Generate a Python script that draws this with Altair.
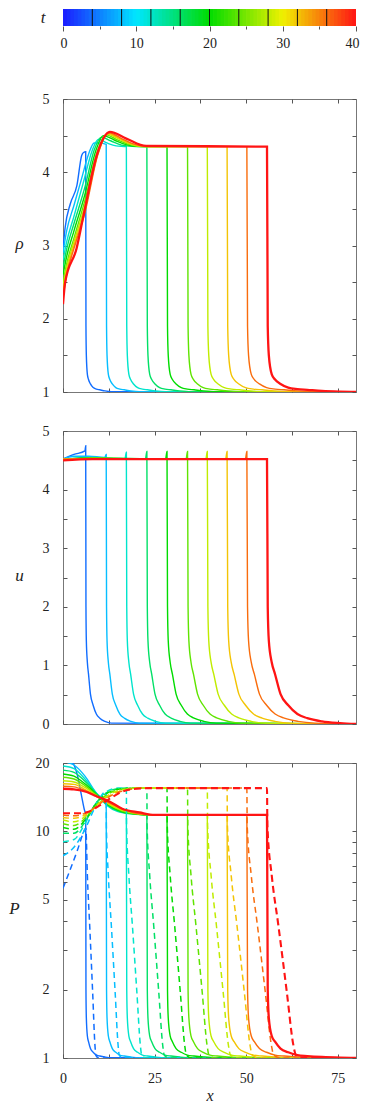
import altair as alt
import pandas as pd

# ---------------- data ----------------
T = [4, 8, 12, 16, 20, 24, 28, 32, 36, 40]
SHOCK_X = [6.2, 11.8, 17.3, 22.9, 28.4, 34.0, 39.4, 44.8, 50.2, 55.7]
TAIL_SCALE = [0.35, 0.45, 0.53, 0.6, 0.67, 0.74, 0.8, 0.87, 0.93, 1.0]

# precursor profile behind the front (offsets for the t=40 curve)
TAIL_DX = [0.2, 0.5, 1.3, 2.2, 3.7, 5.8, 8.3, 11, 15, 20]
RHO_TAIL = [1.9, 1.5, 1.24, 1.17, 1.11, 1.06, 1.04, 1.03, 1.015, 1.005]
U_TAIL = [2.0, 1.42, 1.05, 0.85, 0.51, 0.32, 0.17, 0.1, 0.045, 0.015]
P_TAIL = [2.0, 1.5, 1.25, 1.18, 1.1, 1.06, 1.03, 1.02, 1.01, 1.003]
PD_TAIL_DX = [0.1, 1.3, 3.1, 5.4, 7.2, 7.9, 10]
PD_TAIL = [10.6, 6.37, 3.85, 1.96, 1.14, 1.03, 1.0]

RHO_LEFT_X = [
    [0, 0.6, 2.0, 3.8, 5.1, 5.6],
    [0, 1, 3, 5, 7, 8.5, 10],
    [0, 1, 3, 5.5, 8, 9.7, 12, 14.5],
    [0, 1, 3, 6, 8.5, 10.5, 13, 16, 20],
    [0, 1, 3, 6, 9, 11, 14, 17, 21],
    [0, 1, 3, 6, 9.5, 11.8, 14.5, 18, 22],
    [0, 1, 3, 6, 9.5, 12, 15, 18, 22],
    [0, 1, 3, 6, 9.5, 12.3, 15.5, 18.5, 23],
    [0, 1, 3, 6, 9.5, 12.5, 16, 19, 23],
    [0, 0.6, 3.7, 5.6, 9.2, 11, 12.8, 17.3, 22.7],
]
RHO_LEFT_V = [
    [2.95, 3.25, 3.57, 3.82, 4.23, 4.27],
    [2.9, 3.2, 3.55, 3.9, 4.25, 4.4, 4.4],
    [2.8, 3.05, 3.4, 3.85, 4.3, 4.45, 4.4, 4.36],
    [2.7, 2.95, 3.3, 3.8, 4.3, 4.48, 4.43, 4.37, 4.35],
    [2.6, 2.85, 3.2, 3.7, 4.3, 4.5, 4.44, 4.38, 4.35],
    [2.5, 2.75, 3.1, 3.62, 4.3, 4.51, 4.45, 4.38, 4.35],
    [2.45, 2.7, 3.05, 3.55, 4.27, 4.52, 4.46, 4.39, 4.35],
    [2.38, 2.65, 3.0, 3.5, 4.25, 4.53, 4.46, 4.39, 4.35],
    [2.3, 2.6, 2.96, 3.45, 4.24, 4.54, 4.46, 4.39, 4.35],
    [2.2, 2.5, 2.96, 3.41, 4.23, 4.46, 4.55, 4.46, 4.36],
]
RHO_TOP = [4.28, 4.38, 4.35, 4.35, 4.35, 4.35, 4.35, 4.35, 4.35, 4.35]

U_LEFT_X = [
    [0, 3, 6.0],
    [0, 3, 7, 11.4],
    [0, 8, 16.9],
    [0, 8, 22.5],
    [0, 8, 28.0],
    [0, 8, 33.6],
    [0, 8, 39.0],
    [0, 8, 44.4],
    [0, 8, 49.8],
    [0, 8, 55.3],
]
U_LEFT_V = [
    [4.52, 4.6, 4.66],
    [4.52, 4.57, 4.57, 4.55],
    [4.52, 4.55, 4.52],
    [4.52, 4.54, 4.52],
    [4.52, 4.54, 4.52],
    [4.52, 4.53, 4.52],
    [4.52, 4.53, 4.52],
    [4.52, 4.53, 4.52],
    [4.52, 4.52, 4.52],
    [4.5, 4.52, 4.52],
]
U_TOP = [4.75, 4.6, 4.64, 4.65, 4.65, 4.65, 4.65, 4.65, 4.65, 4.52]

P_LEFT_X = [
    [0, 2.7, 4, 5, 5.8],
    [0, 3, 6, 9],
    [0, 3, 6, 9, 12, 15],
    [0, 3, 6, 9, 12, 15, 19],
    [0, 3, 6, 9, 12, 16, 20, 24],
    [0, 3, 6, 9, 12, 16, 20, 24],
    [0, 3, 6, 9, 12, 16, 20, 25],
    [0, 3, 6, 9, 12, 16, 20, 25],
    [0, 3, 6, 9, 12, 16, 20, 25],
    [0, 3, 6.5, 9, 12.8, 16, 20.9, 25],
]
P_LEFT_V = [
    [21.5, 20, 17.5, 14.5, 12.5],
    [20.3, 19.6, 17.5, 14.8],
    [19.4, 18.9, 17.0, 14.8, 13.0, 12.2],
    [18.6, 18.2, 16.6, 14.7, 13.1, 12.3, 11.9],
    [17.9, 17.5, 16.2, 14.6, 13.2, 12.2, 11.9, 11.8],
    [17.3, 17.0, 15.9, 14.5, 13.3, 12.3, 11.9, 11.8],
    [16.7, 16.5, 15.6, 14.4, 13.3, 12.4, 12.0, 11.8],
    [16.2, 16.1, 15.3, 14.3, 13.4, 12.5, 12.0, 11.8],
    [15.8, 15.7, 15.1, 14.3, 13.5, 12.6, 12.0, 11.8],
    [15.4, 15.3, 14.9, 14.3, 13.5, 12.6, 12.1, 11.8],
]
P_TOP = [11.8, 13.2, 12.0, 11.8, 11.8, 11.8, 11.8, 11.8, 11.8, 11.8]

PD_LEFT_X = [
    [0, 2, 4, 5.5],
    [0, 3, 6, 9],
    [0, 3, 6, 9, 12, 15],
    [0, 3, 6, 9, 12, 15, 18],
    [0, 3, 6, 9, 12, 16, 20],
    [0, 3, 6, 9, 12, 16, 20],
    [0, 3, 6, 9, 12, 16, 21],
    [0, 3, 6, 9, 12, 16, 21],
    [0, 3, 6, 9, 12, 16, 22],
    [0, 4.5, 7, 10, 13, 16, 20, 25],
]
PD_LEFT_V = [
    [5.6, 6.8, 8.3, 9.8],
    [7.8, 8.5, 10.2, 13.0],
    [9.0, 9.2, 10.8, 13.3, 15.0, 15.5],
    [9.8, 9.8, 11.0, 13.3, 14.8, 15.4, 15.5],
    [10.4, 10.2, 11.2, 13.2, 14.7, 15.4, 15.5],
    [10.8, 10.6, 11.4, 13.0, 14.5, 15.3, 15.5],
    [11.2, 11.0, 11.6, 12.9, 14.3, 15.2, 15.5],
    [11.5, 11.4, 11.8, 12.8, 14.1, 15.1, 15.5],
    [11.8, 11.7, 12.0, 12.8, 14.0, 15.0, 15.5],
    [12.0, 12.0, 12.2, 13.0, 14.0, 14.9, 15.4, 15.5],
]
PD_TOP = [10.3, 15.0, 15.5, 15.5, 15.5, 15.5, 15.5, 15.5, 15.5, 15.5]

CB_TICKS = [0, 10, 20, 30, 40]
CB_MINOR = [5, 15, 25, 35]
CB_STRIPES = [i * 0.5 for i in range(80)]
X_MAX = 80


def build(left_x, left_v, tops, tail_dx, tail_v, base):
    rows = []
    for i, t in enumerate(T):
        xs, s, top = SHOCK_X[i], TAIL_SCALE[i], tops[i]
        pts = [(x, v) for x, v in zip(left_x[i], left_v[i]) if x < xs]
        pts.append((xs, top))
        for dx, v in zip(tail_dx, tail_v):
            if xs + dx * s < X_MAX:
                pts.append((xs + dx * s, min(v, top)))
        pts.append((X_MAX, base))
        for k, (x, v) in enumerate(pts):
            rows.append({"t": t, "x": x, "v": v, "k": k})
    return pd.DataFrame(rows)


rho_df = build(RHO_LEFT_X, RHO_LEFT_V, RHO_TOP, TAIL_DX, RHO_TAIL, 1.0)
u_df = build(U_LEFT_X, U_LEFT_V, U_TOP, TAIL_DX, U_TAIL, 0.0)
p_df = build(P_LEFT_X, P_LEFT_V, P_TOP, TAIL_DX, P_TAIL, 1.0)
pd_df = build(PD_LEFT_X, PD_LEFT_V, PD_TOP, PD_TAIL_DX, PD_TAIL, 1.0)

# ---------------- styling ----------------
W = 293
CBH = 17
FONT = "Liberation Serif"
cscale = alt.Scale(domain=[0, 10, 20, 30, 40],
                   range=["#1c1cff", "#00e6ff", "#00dc00", "#f0f000", "#ff1414"],
                   interpolate="rgb")
xscale = alt.Scale(domain=[0, X_MAX], nice=False, zero=False)


def lines(df, yscale, width, dash=None, xaxis=None, yaxis=None):
    kw = dict(strokeWidth=width, clip=True, interpolate="monotone")
    if dash:
        kw["strokeDash"] = dash
    x = alt.X("x:Q", scale=xscale, axis=xaxis) if xaxis is not None else alt.X("x:Q", scale=xscale, axis=None)
    y = alt.Y("v:Q", scale=yscale, axis=yaxis) if yaxis is not None else alt.Y("v:Q", scale=yscale, axis=None)
    return alt.Chart(df).mark_line(**kw).encode(
        x=x, y=y,
        color=alt.Color("t:Q", scale=cscale, legend=None),
        detail="t:N",
        order="k:Q",
    )


def tick_layer(df, yscale, H, yorient, xorient, yvals, xvals):
    return alt.Chart(df).mark_point(opacity=0, size=1).encode(
        x=alt.X("x:Q", scale=xscale, axis=alt.Axis(
            orient=xorient, offset=-H, values=xvals, labels=False, title=None,
            domain=False, grid=False, ticks=True, tickSize=4)),
        y=alt.Y("v:Q", scale=yscale, axis=alt.Axis(
            orient=yorient, offset=-W, values=yvals, labels=False, title=None,
            domain=False, grid=False, ticks=True, tickSize=4)),
    )


def panel(solid, dashed, ydom, ytype, ylabels, yticks, ytitle, title_x, H, xlabels):
    yscale = alt.Scale(domain=ydom, type=ytype, nice=False, zero=False)
    xticks = [0, 12.5, 25, 37.5, 50, 62.5, 75]
    yaxis = alt.Axis(orient="left", values=ylabels, format="d", title=ytitle, titleAngle=0,
                     titleX=title_x, titleY=H / 2 - 2, titleAlign="center",
                     titleBaseline="middle", ticks=False, tickSize=0, domain=False,
                     grid=False, labelPadding=14, labelFlush=False, labelOverlap=False)
    if xlabels:
        xaxis = alt.Axis(orient="bottom", values=[0, 25, 50, 75], format="d", title="x",
                         titleY=37, titleBaseline="middle", titleFontSize=16,
                         ticks=False, tickSize=0, domain=False, grid=False,
                         labelPadding=13, labelFlush=False)
    else:
        xaxis = None
    layers = [lines(solid[solid.t < 40], yscale, 1.4, xaxis=xaxis, yaxis=yaxis)]
    if dashed is not None:
        layers.append(lines(dashed[dashed.t < 40], yscale, 1.5, dash=[6, 4]))
    layers.append(lines(solid[solid.t == 40], yscale, 2.3))
    if dashed is not None:
        layers.append(lines(dashed[dashed.t == 40], yscale, 2.1, dash=[7, 4]))
    layers.append(tick_layer(solid, yscale, H, "right", "top", yticks, xticks))
    layers.append(tick_layer(solid, yscale, H, "left", "bottom", yticks, xticks))
    return alt.layer(*layers).resolve_axis(x="independent", y="independent").properties(
        width=W, height=H)


rho = panel(rho_df, None, [1, 5], "linear", [1, 2, 3, 4, 5],
            [1 + 0.5 * i for i in range(9)], "ρ", -44, 293, False)
u = panel(u_df, None, [0, 5], "linear", [0, 1, 2, 3, 4, 5],
          [0.5 * i for i in range(11)], "u", -44, 293, False)
p = panel(p_df, pd_df, [1, 20], "log", [1, 2, 5, 10, 20],
          [1, 2, 3, 4, 5, 6, 7, 8, 9, 10, 20], "P", -49, 295, True)

# ---------------- colour bar ----------------
cb_df = pd.DataFrame({"t0": CB_STRIPES,
                      "t1": [s + 0.6 for s in CB_STRIPES],
                      "tc": [s + 0.25 for s in CB_STRIPES],
                      "y0": 0.0, "y1": 1.0})
cb_x = alt.Scale(domain=[0, 40], nice=False, zero=False)
cb_y = alt.Scale(domain=[0, 1], nice=False, zero=False)
bar = alt.Chart(cb_df).mark_rect(clip=True).encode(
    x=alt.X("t0:Q", scale=cb_x, axis=alt.Axis(
        orient="bottom", values=CB_TICKS, format="d", tickSize=5, labelPadding=5,
        labelFlush=True, labelFlushOffset=3, domain=False, grid=False, title=None)),
    x2="t1:Q",
    y=alt.Y("y0:Q", scale=cb_y, axis=None),
    y2="y1:Q",
    color=alt.Color("tc:Q", scale=cscale, legend=None),
)
seps = alt.Chart(pd.DataFrame({"t0": T[:-1], "y0": 0.0, "y1": 1.0})).mark_rule(
    color="#111", strokeWidth=1).encode(
    x=alt.X("t0:Q", scale=cb_x, axis=None),
    y=alt.Y("y0:Q", scale=cb_y, axis=None),
    y2="y1:Q",
)
minor = alt.Chart(pd.DataFrame({"t0": CB_MINOR, "y0": 0.0})).mark_point(opacity=0, size=1).encode(
    x=alt.X("t0:Q", scale=cb_x, axis=alt.Axis(
        orient="bottom", values=CB_MINOR, labels=False, tickSize=3,
        domain=False, grid=False, title=None)),
    y=alt.Y("y0:Q", scale=cb_y, axis=None),
)
tlabel = alt.Chart(pd.DataFrame({"label": ["t"]})).mark_text(
    font=FONT, fontSize=17, fontStyle="italic", align="center", baseline="middle",
    color="#222").encode(x=alt.value(-20), y=alt.value(CBH / 2), text="label:N")
cbar = alt.layer(bar, seps, minor, tlabel).resolve_axis(x="independent", y="independent").properties(
    width=W, height=CBH, view=alt.ViewBackground(stroke="transparent"))

inner = alt.vconcat(rho, u, p, spacing=39, bounds="flush")
chart = alt.vconcat(cbar, inner, spacing=73, bounds="flush").properties(
    padding={"left": 0, "top": 0, "right": 0, "bottom": 0}
).configure_view(stroke="#777", strokeWidth=1).configure_axis(
    labelFont=FONT, labelFontSize=14, labelColor="#222",
    titleFont=FONT, titleFontSize=17, titleFontStyle="italic",
    titleFontWeight="normal", titleColor="#222",
    tickColor="#555", tickWidth=1,
)

chart.save("out.html", embed_options={"renderer": "svg", "actions": False})
